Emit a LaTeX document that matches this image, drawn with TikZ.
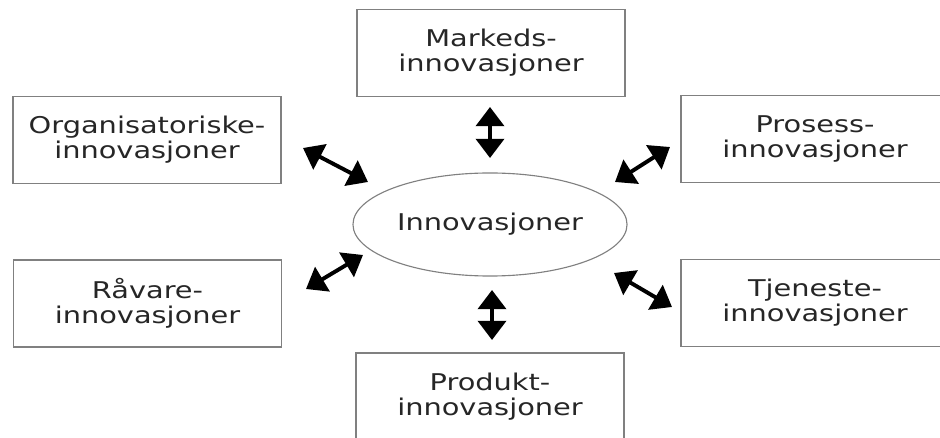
\documentclass[tikz,border=0pt]{standalone}
\usepackage{fontspec}
\newfontfamily\diafont[FakeStretch=1.25]{DejaVu Sans}
\usetikzlibrary{arrows.meta,positioning,shapes.geometric}

\begin{document}
\begin{tikzpicture}[
  x=0.025cm, y=-0.025cm,
  font=\diafont\fontsize{16.4pt}{17.8pt}\selectfont,
  b/.style={draw=black!50, line width=0.8pt, minimum width=6.7cm, minimum height=2.175cm,
    align=center, text=black!85, inner sep=0pt},
  ov/.style={draw=black!50, line width=0.8pt, ellipse, minimum width=6.85cm,
    minimum height=2.575cm, text=black!85, inner sep=0pt},
  d/.style={{Triangle[length=0.48cm, width=0.7cm]}-{Triangle[length=0.48cm, width=0.7cm]},
    line width=2.8pt}
]
\useasboundingbox (0,0) rectangle (940,438);
\node[ov] (inno) at (490,224.5) {Innovasjoner};
\node[b] (mark) at (491,53) {Markeds-\\innovasjoner};
\node[b] (org) at (147,140) {Organisatoriske-\\innovasjoner};
\node[b] (pros) at (815,139) {Prosess-\\innovasjoner};
\node[b] (raav) at (147.5,303.5) {Råvare-\\innovasjoner};
\node[b] (tjen) at (815,303) {Tjeneste-\\innovasjoner};
\node[b] (prod) at (490,396.5) {Produkt-\\innovasjoner};
% arrow ends
\coordinate (m1) at (490,107); \coordinate (m2) at (490,158);
\coordinate (o1) at (303,148); \coordinate (o2) at (368,182);
\coordinate (p1) at (670,147); \coordinate (p2) at (615,182);
\coordinate (r1) at (306,289); \coordinate (r2) at (363,255);
\coordinate (t1) at (672,307); \coordinate (t2) at (614,273);
\coordinate (k1) at (492,340); \coordinate (k2) at (492,290);
\draw[d] (m1)--(m2);
\draw[d] (o1)--(o2);
\draw[d] (p1)--(p2);
\draw[d] (r1)--(r2);
\draw[d] (t1)--(t2);
\draw[d] (k1)--(k2);
\end{tikzpicture}
\end{document}
